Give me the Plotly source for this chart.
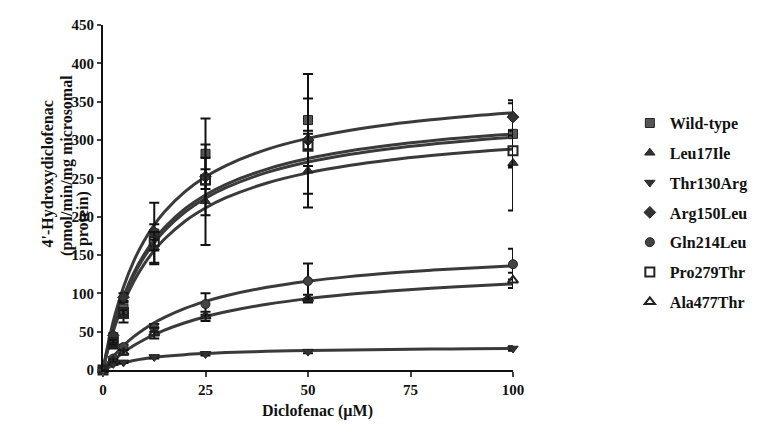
import plotly.graph_objects as go

# Measured points (µM diclofenac)
conc = [0, 2.5, 5, 12.5, 25, 50, 100]
series_names = ["Wild-type", "Leu17Ile", "Thr130Arg", "Arg150Leu", "Gln214Leu", "Pro279Thr", "Ala477Thr"]

wt_y = [0, 40, 80, 178, 282, 326, 308]
wt_e = [0, 4, 8, 40, 46, 60, 44]
leu_y = [0, 32, 70, 160, 220, 260, 270]
leu_e = [0, 4, 8, 20, 57, 48, 62]
thr_y = [0, 8, 10, 17, 21, 24, 28]
thr_e = [0, 1, 1, 2, 2, 2, 3]
arg_y = [0, 45, 95, 180, 252, 300, 330]
arg_e = [0, 3, 5, 10, 10, 12, 18]
gln_y = [0, 15, 30, 55, 86, 116, 138]
gln_e = [0, 2, 3, 5, 14, 23, 20]
pro_y = [0, 36, 75, 168, 248, 292, 286]
pro_e = [0, 3, 6, 12, 46, 62, 20]
ala_y = [0, 12, 23, 48, 70, 93, 117]
ala_e = [0, 2, 3, 7, 6, 5, 10]

# Fitted curves
curve_x = [0, 1, 2, 3, 5, 7.5, 10, 12.5, 15, 20, 25, 30, 40, 50, 60, 70, 80, 90, 100]
curve_arg = [0, 28.1, 52.4, 73.4, 108.3, 142.1, 168.3, 189.3, 206.4, 232.7, 252.0, 266.7, 287.8, 302.1, 312.4, 320.3, 326.4, 331.3, 335.4]
curve_wt = [0, 24.7, 46.1, 64.8, 96.1, 126.7, 150.6, 169.9, 185.8, 210.3, 228.3, 242.2, 262.1, 275.8, 285.6, 293.1, 299.0, 303.8, 307.7]
curve_pro = [0, 23.9, 44.7, 62.9, 93.5, 123.4, 147.0, 166.0, 181.7, 206.0, 224.0, 237.8, 257.7, 271.3, 281.2, 288.7, 294.6, 299.4, 303.4]
curve_leu = [0, 22.2, 41.5, 58.6, 87.2, 115.5, 137.8, 155.9, 170.8, 194.1, 211.3, 224.7, 243.9, 257.1, 266.7, 274.0, 279.7, 284.4, 288.2]
curve_gln = [0, 7.5, 14.4, 20.7, 31.8, 43.5, 53.2, 61.6, 68.7, 80.4, 89.5, 96.9, 107.9, 115.8, 121.8, 126.4, 130.2, 133.2, 135.8]
curve_ala = [0, 5.3, 10.2, 14.7, 23.0, 31.9, 39.5, 46.1, 52.0, 61.7, 69.5, 75.9, 85.8, 93.1, 98.7, 103.1, 106.7, 109.7, 112.2]
curve_thr = [0, 2.6, 4.7, 6.6, 9.7, 12.5, 14.7, 16.5, 17.9, 20.0, 21.5, 22.7, 24.3, 25.5, 26.2, 26.8, 27.3, 27.7, 28.0]

x_ticks = [0, 25, 50, 75, 100]
y_ticks = list(range(0, 451, 50))
x_title = "Diclofenac (µM)"
y_title_lines = ["4'-Hydroxydiclofenac", "(pmol/min/mg microsomal", "protein)"]

FONT = "Liberation Serif"
DARK = "#3a3a3a"

fig = go.Figure()

for cy in [curve_arg, curve_wt, curve_pro, curve_leu, curve_gln, curve_ala, curve_thr]:
    fig.add_trace(go.Scatter(x=curve_x, y=cy, mode="lines", line=dict(color=DARK, width=3, shape="spline"),
                             showlegend=False, hoverinfo="skip", cliponaxis=False))

point_sets = [
    ("Wild-type", wt_y, wt_e, "square", "#555555", "#222222"),
    ("Leu17Ile", leu_y, leu_e, "triangle-up", "#333333", "#222222"),
    ("Thr130Arg", thr_y, thr_e, "triangle-down", "#333333", "#222222"),
    ("Arg150Leu", arg_y, arg_e, "diamond", "#333333", "#222222"),
    ("Gln214Leu", gln_y, gln_e, "circle", "#444444", "#222222"),
    ("Pro279Thr", pro_y, pro_e, "square-open", "#222222", "#222222"),
    ("Ala477Thr", ala_y, ala_e, "triangle-up-open", "#222222", "#222222"),
]

for i, (name, ys, es, sym, fillc, linec) in enumerate(point_sets):
    fig.add_trace(go.Scatter(
        x=conc, y=ys, mode="markers", name=name, legendgroup=f"g{i}",
        error_y=dict(type="data", array=es, visible=True, color="#111111", thickness=2, width=5),
        marker=dict(symbol=sym, size=9, color=fillc, line=dict(color=linec, width=2 if "open" in sym else 1)),
        cliponaxis=False,
    ))

fig.update_layout(
    width=765, height=429,
    margin=dict(l=95, r=260, t=9, b=67),
    paper_bgcolor="white", plot_bgcolor="white",
    font=dict(family=FONT, size=15, color="#111111"),
    showlegend=True,
    legend=dict(x=1.285, y=0.765, xanchor="left", yanchor="top",
                font=dict(family=FONT, size=16, color="#111111", weight="bold"),
                tracegroupgap=6, itemsizing="trace", bgcolor="rgba(0,0,0,0)"),
    xaxis=dict(range=[0, 100], tickvals=x_ticks, ticks="outside", ticklen=5, tickwidth=2,
               showline=True, linewidth=2, linecolor="#111111", showgrid=False, zeroline=False,
               tickfont=dict(family=FONT, size=15, weight="bold")),
    yaxis=dict(range=[0, 450], tickvals=y_ticks, ticks="outside", ticklen=4, tickwidth=2,
               showline=True, linewidth=2, linecolor="#111111", showgrid=False, zeroline=False,
               tickfont=dict(family=FONT, size=15, weight="bold")),
)

fig.add_annotation(
    text=x_title, xref="paper", yref="paper", x=0.524, y=-0.118, xanchor="center", yanchor="middle",
    showarrow=False, font=dict(family=FONT, size=16, color="#111111", weight="bold"),
)

for txt, xp, yp in zip(y_title_lines, [-0.134, -0.088, -0.047], [0.348, 0.326, 0.354]):
    fig.add_annotation(
        text=txt, xref="paper", yref="paper", x=xp, y=yp, xanchor="center", yanchor="bottom",
        textangle=-90, showarrow=False,
        font=dict(family=FONT, size=16, color="#111111", weight="bold"),
    )

fig.write_html("out.html")
